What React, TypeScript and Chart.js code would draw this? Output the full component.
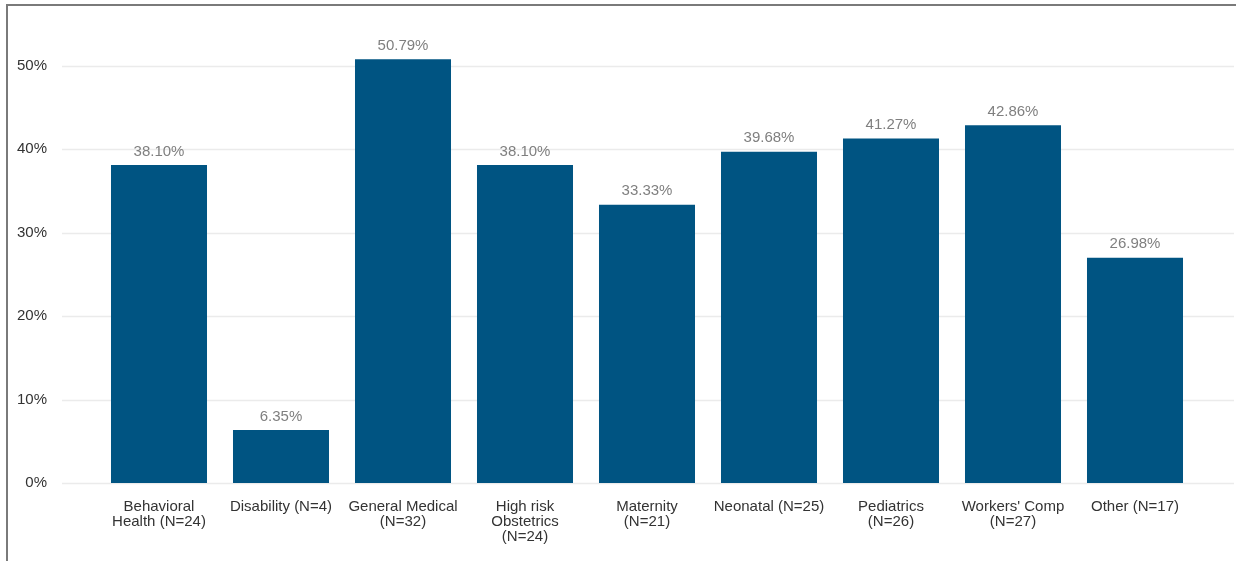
import React, { useEffect, useRef } from "react";
import { Chart, registerables } from "chart.js";

Chart.register(...registerables);

const categories: string[][] = [
  ["Behavioral", "Health (N=24)"],
  ["Disability (N=4)"],
  ["General Medical", "(N=32)"],
  ["High risk", "Obstetrics", "(N=24)"],
  ["Maternity", "(N=21)"],
  ["Neonatal (N=25)"],
  ["Pediatrics", "(N=26)"],
  ["Workers' Comp", "(N=27)"],
  ["Other (N=17)"],
];

const values: number[] = [38.1, 6.35, 50.79, 38.1, 33.33, 39.68, 41.27, 42.86, 26.98];

const yTickStep = 10;
const yMax = 55;

const FONT = "'Liberation Sans', Arial, sans-serif";

const gridPlugin = {
  id: "extGrid",
  beforeDatasetsDraw(chart: any) {
    const ctx = chart.ctx;
    const y = chart.scales.y;
    ctx.save();
    ctx.strokeStyle = "#ebebeb";
    ctx.lineWidth = 1.5;
    y.ticks.forEach((t: any) => {
      const py = Math.round(y.getPixelForValue(t.value)) + 0.5;
      ctx.beginPath();
      ctx.moveTo(62, py);
      ctx.lineTo(1234, py);
      ctx.stroke();
    });
    ctx.restore();
  },
};

const labelPlugin = {
  id: "valueLabels",
  afterDatasetsDraw(chart: any) {
    const ctx = chart.ctx;
    const meta = chart.getDatasetMeta(0);
    ctx.save();
    ctx.font = `15px ${FONT}`;
    ctx.fillStyle = "#7f7f7f";
    ctx.textAlign = "center";
    ctx.textBaseline = "bottom";
    meta.data.forEach((bar: any, i: number) => {
      ctx.fillText(values[i].toFixed(2) + "%", bar.x, bar.y - 6);
    });
    ctx.restore();
  },
};

export default function App() {
  const ref = useRef<HTMLCanvasElement | null>(null);

  useEffect(() => {
    document.body.style.margin = "0";
    if (!ref.current) return;
    const chart = new Chart(ref.current, {
      type: "bar",
      data: {
        labels: categories,
        datasets: [
          {
            data: values,
            backgroundColor: "#005482",
            barPercentage: 0.787,
            categoryPercentage: 1,
          },
        ],
      },
      options: {
        animation: false,
        responsive: false,
        maintainAspectRatio: false,
        layout: { padding: { left: 0, right: 42, top: 0, bottom: 0 } },
        plugins: {
          legend: { display: false },
          tooltip: { enabled: false },
        },
        scales: {
          x: {
            grid: { display: false, drawTicks: false },
            border: { display: false },
            ticks: {
              color: "#333333",
              font: { family: FONT, size: 15, lineHeight: 1.0 } as any,
              padding: 16,
              maxRotation: 0,
              autoSkip: false,
            },
            afterFit(scale: any) {
              scale.height = 78;
            },
          },
          y: {
            min: 0,
            max: yMax,
            bounds: "data",
            grid: { display: false, drawTicks: false },
            border: { display: false },
            ticks: {
              stepSize: yTickStep,
              includeBounds: false,
              color: "#333333",
              font: { family: FONT, size: 15 },
              padding: 51,
              callback: (v: any) => v + "%",
            },
            afterBuildTicks(scale: any) {
              scale.ticks = scale.ticks.filter((t: any) => t.value % yTickStep === 0);
            },
            afterFit(scale: any) {
              scale.width = 98;
            },
          },
        },
      },
      plugins: [gridPlugin, labelPlugin],
    });
    return () => chart.destroy();
  }, []);

  return (
    <div style={{ position: "relative", width: 1238, height: 561, background: "#fff", overflow: "hidden" }}>
      <div
        style={{
          position: "absolute",
          left: 6,
          top: 4,
          width: 1230,
          height: 600,
          borderTop: "2px solid #7a7a7a",
          borderLeft: "2px solid #7a7a7a",
          boxSizing: "border-box",
        }}
      />
      <canvas ref={ref} width={1238} height={597} style={{ position: "absolute", left: 0, top: -36 }} />
    </div>
  );
}
